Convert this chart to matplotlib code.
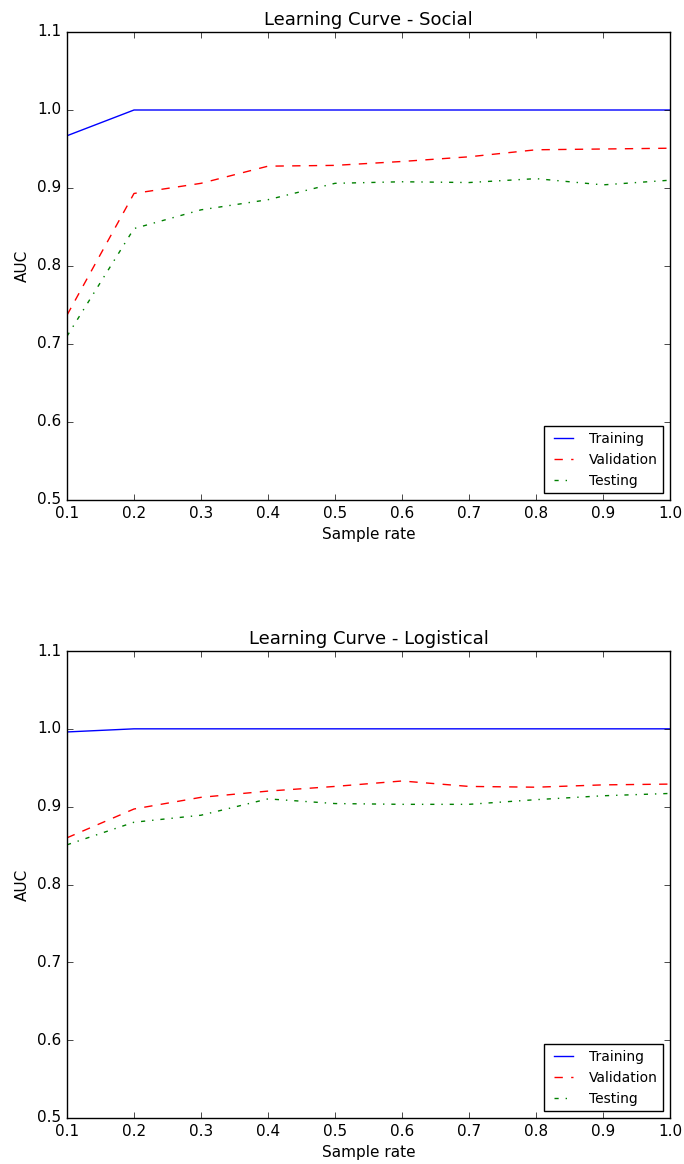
import matplotlib
matplotlib.use("Agg")
import matplotlib.pyplot as plt

plt.style.use('classic')

# sample rates on the x axis
rates = [0.1, 0.2, 0.3, 0.4, 0.5, 0.6, 0.7, 0.8, 0.9, 1.0]

# Social model
social_train = [0.967, 1.0, 1.0, 1.0, 1.0, 1.0, 1.0, 1.0, 1.0, 1.0]
social_valid = [0.737, 0.893, 0.906, 0.928, 0.929, 0.934, 0.940, 0.949, 0.950, 0.951]
social_test = [0.710, 0.848, 0.872, 0.885, 0.906, 0.908, 0.907, 0.912, 0.904, 0.910]

# Logistical model
logit_train = [0.996, 1.0, 1.0, 1.0, 1.0, 1.0, 1.0, 1.0, 1.0, 1.0]
logit_valid = [0.860, 0.897, 0.912, 0.920, 0.926, 0.933, 0.926, 0.925, 0.928, 0.929]
logit_test = [0.851, 0.880, 0.889, 0.910, 0.904, 0.903, 0.903, 0.909, 0.914, 0.917]

titles = ["Learning Curve - Social", "Learning Curve - Logistical"]
series = [(social_train, social_valid, social_test),
          (logit_train, logit_valid, logit_test)]

W, H = 684, 1164
fig = plt.figure(figsize=(W / 100, H / 100), dpi=100, facecolor='white')

# axes boxes in pixels: left, top, right, bottom
boxes = [(67, 32, 670, 500), (67, 651, 670, 1118)]

for (l, t, r, b), title, (tr, va, te) in zip(boxes, titles, series):
    ax = fig.add_axes([l / W, 1 - b / H, (r - l) / W, (b - t) / H])
    ax.plot(rates, tr, 'b-', label='Training')
    ax.plot(rates, va, 'r--', label='Validation')
    ax.plot(rates, te, 'g-.', label='Testing')
    ax.set_xlim(0.1, 1.0)
    ax.set_ylim(0.5, 1.1)
    ax.set_xticks([0.1, 0.2, 0.3, 0.4, 0.5, 0.6, 0.7, 0.8, 0.9, 1.0])
    ax.set_yticks([0.5, 0.6, 0.7, 0.8, 0.9, 1.0, 1.1])
    ax.tick_params(labelsize=11)
    ax.set_title(title, fontsize=13)
    ax.set_xlabel('Sample rate', fontsize=11)
    ax.set_ylabel('AUC', fontsize=11)
    ax.legend(loc='lower right', fontsize=10)

fig.savefig('out.png', dpi=100, facecolor='white')
